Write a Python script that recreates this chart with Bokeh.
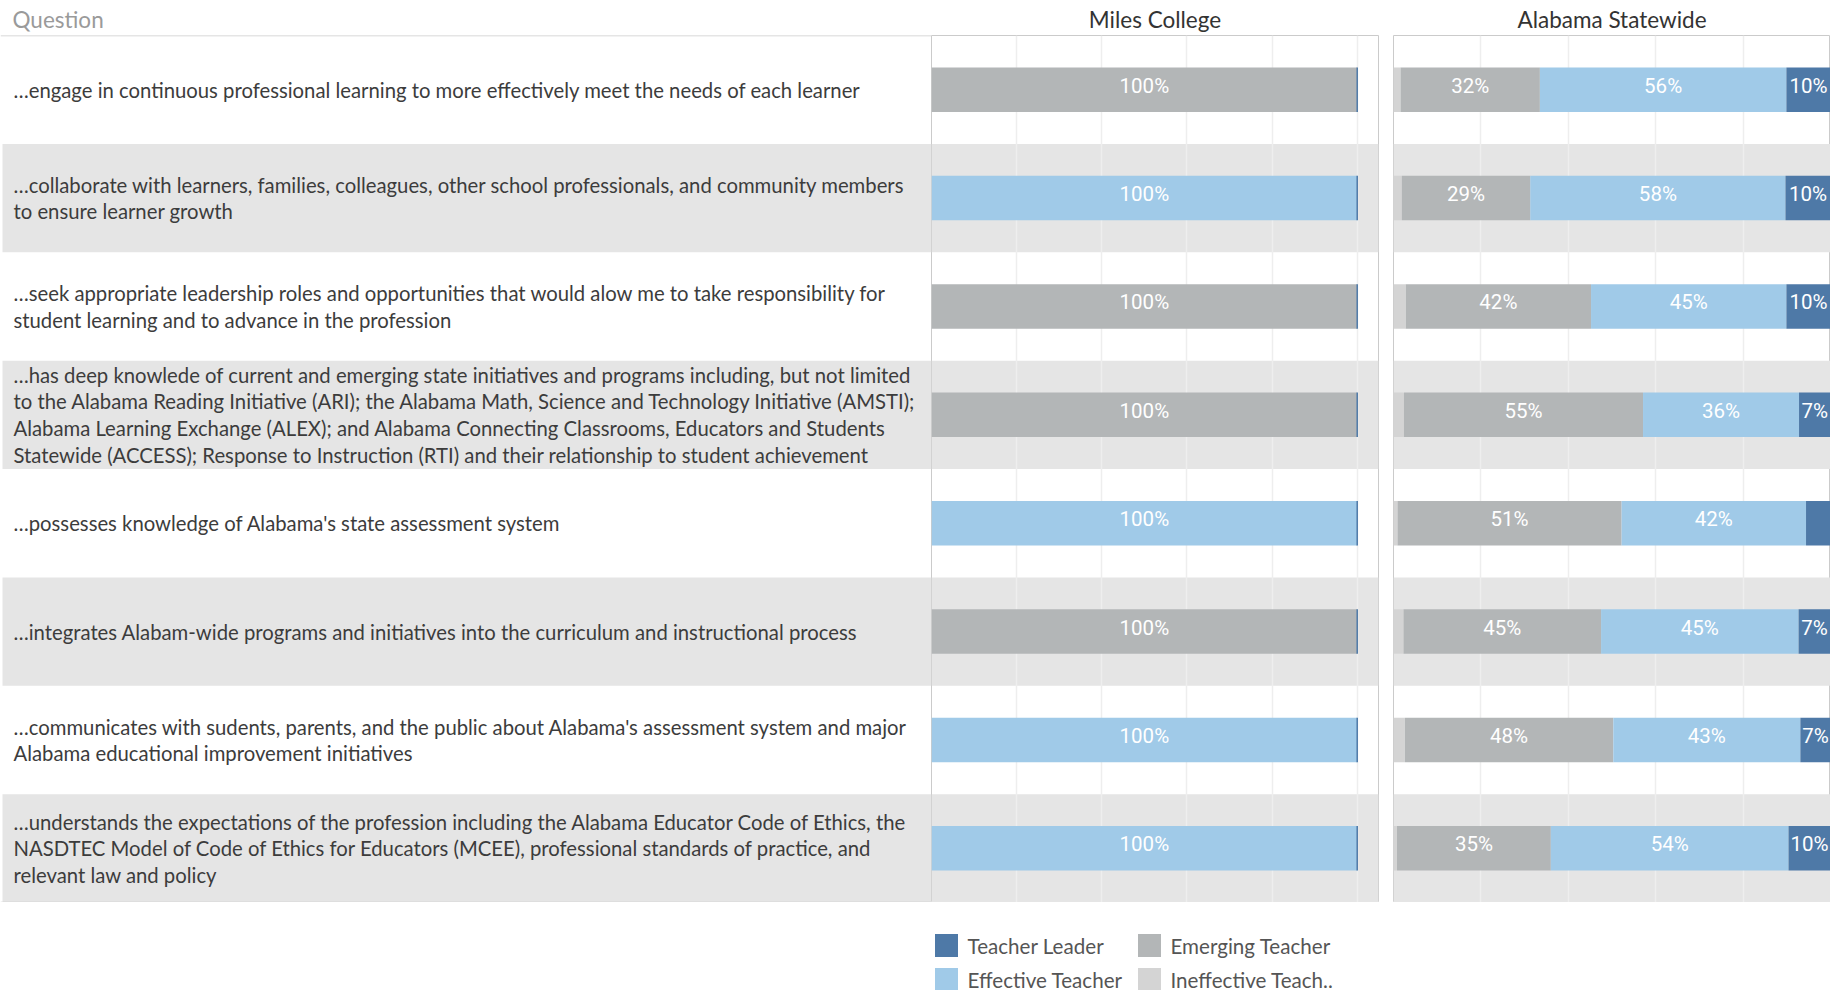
from bokeh.plotting import figure
from bokeh.layouts import row, column
from bokeh.models import Range1d, FixedTicker, ColumnDataSource, Span
from bokeh.embed import file_html
from bokeh.resources import INLINE
from bokeh.core.properties import value

# ---------------- data ----------------
questions = [
    "\u2026engage in continuous professional learning to more effectively meet the needs of each learner",
    "\u2026collaborate with learners, families, colleagues, other school professionals, and community members\nto ensure learner growth",
    "\u2026seek appropriate leadership roles and opportunities that would alow me to take responsibility for\nstudent learning and to advance in the profession",
    "\u2026has deep knowlede of current and emerging state initiatives and programs including, but not limited\nto the Alabama Reading Initiative (ARI); the Alabama Math, Science and Technology Initiative (AMSTI);\nAlabama Learning Exchange (ALEX); and Alabama Connecting Classrooms, Educators and Students\nStatewide (ACCESS); Response to Instruction (RTI) and their relationship to student achievement",
    "\u2026possesses knowledge of Alabama's state assessment system",
    "\u2026integrates Alabam-wide programs and initiatives into the curriculum and instructional process",
    "\u2026communicates with sudents, parents, and the public about Alabama's assessment system and major\nAlabama educational improvement initiatives",
    "\u2026understands the expectations of the profession including the Alabama Educator Code of Ethics, the\nNASDTEC Model of Code of Ethics for Educators (MCEE), professional standards of practice, and\nrelevant law and policy",
]

segments = ["Ineffective Teacher", "Emerging Teacher", "Effective Teacher", "Teacher Leader"]

miles_ineffective = [0, 0, 0, 0, 0, 0, 0, 0]
miles_emerging    = [1, 0, 1, 1, 0, 1, 0, 0]
miles_effective   = [0, 1, 0, 0, 1, 0, 1, 1]
miles_leader      = [0, 0, 0, 0, 0, 0, 0, 0]

state_ineffective = [0.016, 0.019, 0.028, 0.024, 0.009, 0.023, 0.026, 0.008]
state_emerging    = [0.319, 0.294, 0.424, 0.547, 0.513, 0.452, 0.477, 0.352]
state_effective   = [0.564, 0.584, 0.447, 0.357, 0.422, 0.452, 0.428, 0.544]
state_leader      = [0.101, 0.103, 0.101, 0.072, 0.056, 0.073, 0.069, 0.096]

panel_titles = ["Miles College", "Alabama Statewide"]
legend_labels = ["Teacher Leader", "Emerging Teacher", "Effective Teacher", "Ineffective Teach.."]

# ---------------- styles ----------------
seg_colors = {
    "Ineffective Teacher": "#d4d4d4",
    "Emerging Teacher": "#b3b6b7",
    "Effective Teacher": "#a0cae8",
    "Teacher Leader": "#4e79a7",
}
legend_colors = [seg_colors["Teacher Leader"], seg_colors["Emerging Teacher"],
                 seg_colors["Effective Teacher"], seg_colors["Ineffective Teacher"]]
BAND = "#e5e5e5"
GRID = "#eeeeee"
BORDER = "#cbcbcb"
TXT = "#3c3c3c"
FONT = "Lato"
LABEL_FONT = "Roboto"

N = len(questions)
ys = list(range(N))
band_rows = [i for i in ys if i % 2 == 1]

HEADER = 35
ROWS_H = 867
FIG_H = HEADER + ROWS_H
Q_W = 931
M_W = 447
GAP = 15
A_W = 437
BAR_H = 0.41


def make_fig(width, x_end, title, align, title_color, right_border=0, band_start=0):
    p = figure(width=width + right_border, height=FIG_H,
               x_range=Range1d(0, x_end), y_range=Range1d(N - 0.5, -0.5),
               x_axis_location=None, y_axis_location=None,
               output_backend="svg", toolbar_location=None,
               min_border_left=0, min_border_right=right_border,
               min_border_top=HEADER, min_border_bottom=0,
               title=title)
    p.title.text_font = FONT
    p.title.text_font_size = "22.5px"
    p.title.text_font_style = "normal"
    p.title.text_color = title_color
    p.title.align = align
    p.title.standoff = 6
    p.outline_line_color = BORDER
    p.outline_line_width = 1
    p.ygrid.visible = False
    p.xgrid.visible = False
    p.background_fill_color = "white"
    p.border_fill_color = "white"
    # alternating row bands
    p.hbar(y=band_rows, left=band_start, right=x_end, height=1.0,
           fill_color=BAND, line_color=None, level="image")
    return p


# ---------------- question column ----------------
qfig = make_fig(Q_W, Q_W, "Question", "left", "#9a9a9a", band_start=2)
qfig.title.offset = 12
qfig.outline_line_color = None
qfig.add_layout(Span(location=-0.5, dimension="width", line_color=BORDER, line_width=1.5))
qfig.add_layout(Span(location=N - 0.5, dimension="width", line_color=BORDER, line_width=1.5))
qfig.text(x=[13] * N, y=ys, text=questions, text_font=value(FONT),
          text_font_size="20.3px", text_color=TXT, text_align="left",
          text_baseline="middle", text_line_height=1.11)


def stacked(p, values_by_segment):
    left = [0.0] * N
    for seg, vals in zip(segments, values_by_segment):
        right = [l + v for l, v in zip(left, vals)]
        mid = [(l + r) / 2 for l, r in zip(left, right)]
        labels = ["%d%%" % round(v * 100) if v >= 0.06 else "" for v in vals]
        src = ColumnDataSource(dict(y=ys, left=left, right=right, mid=mid, label=labels))
        p.hbar(y="y", left="left", right="right", height=BAR_H, source=src,
               fill_color=seg_colors[seg], line_color=None)
        p.text(x="mid", y="y", text="label", source=src, text_align="center",
               text_baseline="middle", text_color="white", y_offset=-4,
               text_font=value(LABEL_FONT), text_font_size="20.5px")
        left = right
    return left


def add_grid(p):
    p.xgrid.visible = True
    p.xgrid.ticker = FixedTicker(ticks=[0.2, 0.4, 0.6, 0.8, 1.0])
    p.xgrid.grid_line_color = GRID
    p.xgrid.grid_line_width = 1.5


# ---------------- Miles College ----------------
mfig = make_fig(M_W, 1.05, panel_titles[0], "center", "#333333", right_border=GAP)
add_grid(mfig)
mtot = stacked(mfig, [miles_ineffective, miles_emerging, miles_effective, miles_leader])
# zero-width leader segments show as a thin edge
mfig.hbar(y=ys, left=mtot, right=mtot, height=BAR_H, fill_color=None,
          line_color=seg_colors["Teacher Leader"], line_width=1.5)

# ---------------- Alabama Statewide ----------------
afig = make_fig(A_W, 1.0, panel_titles[1], "center", "#333333")
add_grid(afig)
stacked(afig, [state_ineffective, state_emerging, state_effective, state_leader])

# ---------------- legend ----------------
LEG_W = Q_W + M_W + GAP + A_W
LEG_H = 88
lfig = figure(width=LEG_W, height=LEG_H, x_range=Range1d(0, LEG_W), y_range=Range1d(LEG_H, 0),
              x_axis_location=None, y_axis_location=None,
              output_backend="svg", toolbar_location=None, min_border=0)
lfig.grid.visible = False
lfig.outline_line_color = None
cols = [i % 2 for i in range(len(legend_labels))]
rows_ = [i // 2 for i in range(len(legend_labels))]
sq_x = [946 + c * 203 for c in cols]
sq_y = [43 + r * 34 for r in rows_]
lfig.rect(x=sq_x, y=sq_y, width=23, height=23, fill_color=legend_colors, line_color=None)
lfig.text(x=[x + 21 for x in sq_x], y=sq_y, text=legend_labels, text_font=value(FONT),
          text_font_size="20.6px", text_color="#555555", text_align="left", text_baseline="middle")

layout = column(row(qfig, mfig, afig, spacing=0), lfig, spacing=0, margin=(0, 0, 0, 0))

open("out.html", "w").write(file_html(layout, INLINE))
